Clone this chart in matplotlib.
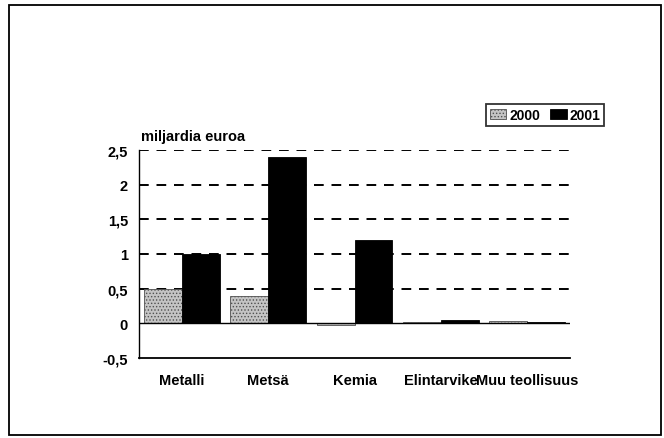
import numpy as np
import matplotlib.pyplot as plt
from matplotlib.patches import Rectangle

categories = ['Metalli', 'Metsä', 'Kemia', 'Elintarvike', 'Muu teollisuus']
values_2000 = [0.5, 0.4, -0.02, 0.025, 0.035]
values_2001 = [1.0, 2.4, 1.2, 0.05, 0.015]
yticks = [-0.5, 0, 0.5, 1, 1.5, 2, 2.5]
ytick_labels = ['-0,5', '0', '0,5', '1', '1,5', '2', '2,5']

plt.rcParams['font.family'] = ['Liberation Sans', 'DejaVu Sans']
plt.rcParams['font.weight'] = 'bold'
plt.rcParams['hatch.color'] = '#707070'
plt.rcParams['hatch.linewidth'] = 0.6

fig = plt.figure(figsize=(6.64, 4.39), dpi=100)
fig.patch.set_facecolor('white')

# outer frame around the whole chart
fig.patches.append(Rectangle((9 / 664, 3 / 439), 652 / 664, 430 / 439,
                             transform=fig.transFigure, fill=False,
                             edgecolor='black', linewidth=1.3))

ax = fig.add_axes([139 / 664, 1 - 359 / 439, 431 / 664, 208 / 439])

x = np.arange(len(categories))
w = 0.44
ax.bar(x - w / 2, values_2000, w, color='#c4c4c4', edgecolor='#505050',
       hatch='.....', linewidth=0.6, label='2000', zorder=3)
ax.bar(x + w / 2, values_2001, w, color='black', edgecolor='black',
       linewidth=0.6, label='2001', zorder=3)

for y in [0.5, 1, 1.5, 2, 2.5]:
    ax.axhline(y, color='black', linestyle=(0, (5, 4)), linewidth=1.4, zorder=1)
ax.axhline(0, color='black', linewidth=1.0, zorder=4)

ax.set_xlim(-0.5, len(categories) - 0.5)
ax.set_ylim(-0.5, 2.5)
ax.set_yticks(yticks)
ax.set_yticklabels(ytick_labels)
ax.set_xticks(x)
ax.set_xticklabels(categories)
ax.tick_params(axis='both', labelsize=10.5, length=0)
ax.tick_params(axis='x', pad=11)
ax.tick_params(axis='y', pad=8)
for lab in ax.get_xticklabels() + ax.get_yticklabels():
    lab.set_fontweight('bold')
ax.spines['top'].set_visible(False)
ax.spines['right'].set_visible(False)
ax.spines['left'].set_linewidth(1.0)
ax.spines['bottom'].set_linewidth(1.3)

fig.text(141 / 664, 1 - 137 / 439, 'miljardia euroa', fontsize=10.5,
         fontweight='bold', va='center', ha='left')

leg = fig.legend(loc='center', bbox_to_anchor=(545 / 664, 1 - 116 / 439),
                 ncol=2, frameon=True, fancybox=False,
                 handlelength=1.2, handleheight=0.8, handletextpad=0.2,
                 columnspacing=0.7, borderpad=0.3, edgecolor='black',
                 prop={'weight': 'bold', 'size': 10})
leg.get_frame().set_linewidth(1.3)

fig.savefig('out.png', dpi=100)
